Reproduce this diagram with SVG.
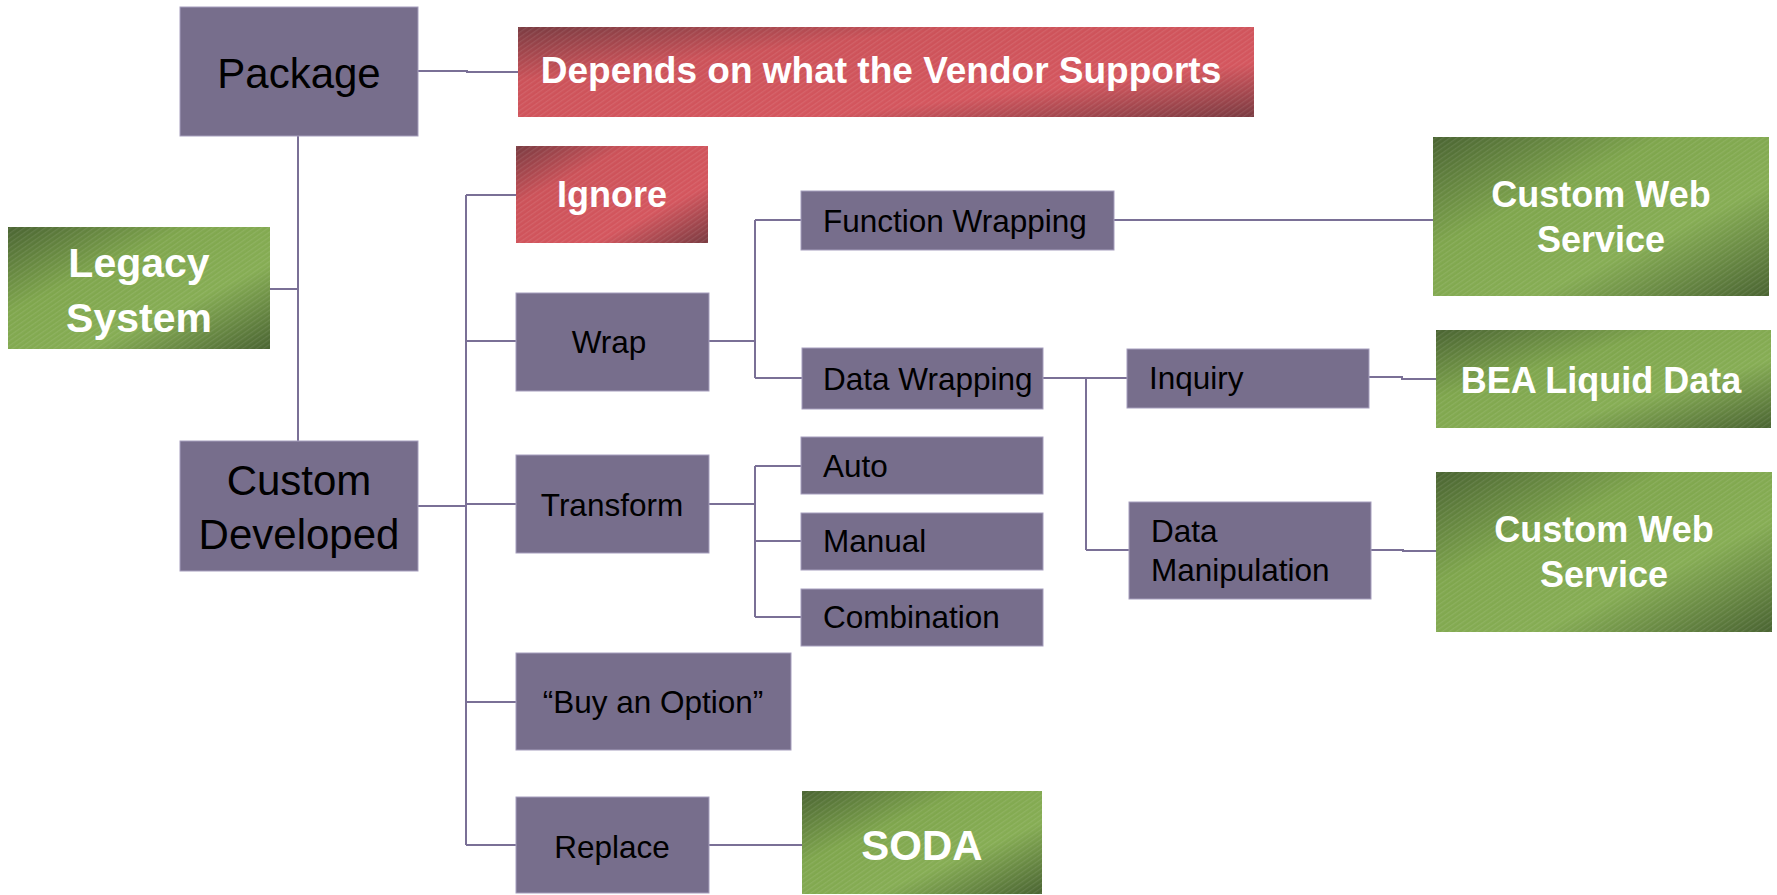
<svg xmlns="http://www.w3.org/2000/svg" width="1777" height="895" viewBox="0 0 1777 895">
<defs>
<linearGradient id="gRed" x1="0" y1="0" x2="1" y2="1">
<stop offset="0" stop-color="#7a3b41"/>
<stop offset="0.3" stop-color="#cc5259"/>
<stop offset="0.7" stop-color="#d4565e"/>
<stop offset="1" stop-color="#7a3b41"/>
</linearGradient>
<linearGradient id="gGreen" x1="0" y1="0" x2="1" y2="1">
<stop offset="0" stop-color="#4a6432"/>
<stop offset="0.35" stop-color="#7fa64d"/>
<stop offset="0.65" stop-color="#86ad54"/>
<stop offset="1" stop-color="#4a6432"/>
</linearGradient>
<pattern id="hatch" width="4" height="4" patternUnits="userSpaceOnUse" patternTransform="rotate(-35)">
<rect width="4" height="1.3" fill="#ffffff" fill-opacity="0.09"/>
</pattern>
</defs>
<style>
.p{fill:#776e8c;stroke:#a69ebd;stroke-width:1}
.r{fill:url(#gRed)}
.g{fill:url(#gGreen)}
.h{fill:url(#hatch)}
.t{font-family:"Liberation Sans",Arial,sans-serif;font-size:31.5px;fill:#000}
.tl{font-family:"Liberation Sans",Arial,sans-serif;font-size:42px;fill:#000;text-anchor:middle}
.c{text-anchor:middle}
.b{font-family:"Liberation Sans",Arial,sans-serif;font-weight:bold;fill:#fff;text-anchor:middle}
#connectors path{fill:none;stroke:#7a7096;stroke-width:2}
</style>
<rect width="1777" height="895" fill="#fff"/>
<g id="connectors">
<path d="M418,71 H467 V72 H518"/>
<path d="M298,136 V441"/>
<path d="M270,289 H298"/>
<path d="M418,506 H466"/>
<path d="M466,195 V845"/>
<path d="M466,195 H516"/>
<path d="M466,341 H516"/>
<path d="M466,504 H516"/>
<path d="M466,702 H516"/>
<path d="M466,845 H516"/>
<path d="M709,341 H755"/>
<path d="M755,220 V378"/>
<path d="M755,220 H801"/>
<path d="M755,378 H802"/>
<path d="M1114,220 H1433"/>
<path d="M1043,378 H1086"/>
<path d="M1086,378 V550"/>
<path d="M1086,378 H1127"/>
<path d="M1086,550 H1129"/>
<path d="M1369,377 H1402 V379 H1436"/>
<path d="M1371,550 H1403 V551 H1436"/>
<path d="M709,504 H755"/>
<path d="M755,466 V617"/>
<path d="M755,466 H801"/>
<path d="M755,541 H801"/>
<path d="M755,617 H801"/>
<path d="M709,845 H802"/>
</g>
<g id="package"><rect class="p" x="180" y="7" width="238" height="129"/><text class="tl" x="299" y="88">Package</text></g>
<g id="custom-developed"><rect class="p" x="180" y="441" width="238" height="130"/><text class="tl" x="299" y="495">Custom</text><text class="tl" x="299" y="549">Developed</text></g>
<g id="legacy-system"><rect class="g" x="8" y="227" width="262" height="122"/><rect class="h" x="8" y="227" width="262" height="122"/><text class="b" x="139" y="277" font-size="41">Legacy</text><text class="b" x="139" y="332" font-size="41">System</text></g>
<g id="depends"><rect class="r" x="518" y="27" width="736" height="90"/><rect class="h" x="518" y="27" width="736" height="90"/><text class="b" x="881" y="83" font-size="37">Depends on what the Vendor Supports</text></g>
<g id="ignore"><rect class="r" x="516" y="146" width="192" height="97"/><rect class="h" x="516" y="146" width="192" height="97"/><text class="b" x="612" y="207" font-size="36">Ignore</text></g>
<g id="wrap"><rect class="p" x="516" y="293" width="193" height="98"/><text class="t c" x="609" y="353">Wrap</text></g>
<g id="function-wrapping"><rect class="p" x="801" y="191" width="313" height="59"/><text class="t" x="823" y="232">Function Wrapping</text></g>
<g id="data-wrapping"><rect class="p" x="802" y="348" width="241" height="61"/><text class="t" x="823" y="390">Data Wrapping</text></g>
<g id="transform"><rect class="p" x="516" y="455" width="193" height="98"/><text class="t c" x="612" y="516">Transform</text></g>
<g id="auto"><rect class="p" x="801" y="437" width="242" height="57"/><text class="t" x="823" y="477">Auto</text></g>
<g id="manual"><rect class="p" x="801" y="513" width="242" height="57"/><text class="t" x="823" y="552">Manual</text></g>
<g id="combination"><rect class="p" x="801" y="589" width="242" height="57"/><text class="t" x="823" y="628">Combination</text></g>
<g id="buy-option"><rect class="p" x="516" y="653" width="275" height="97"/><text class="t c" x="653" y="713">“Buy an Option”</text></g>
<g id="replace"><rect class="p" x="516" y="797" width="193" height="96"/><text class="t c" x="612" y="858">Replace</text></g>
<g id="soda"><rect class="g" x="802" y="791" width="240" height="103"/><rect class="h" x="802" y="791" width="240" height="103"/><text class="b" x="922" y="860" font-size="42">SODA</text></g>
<g id="inquiry"><rect class="p" x="1127" y="349" width="242" height="59"/><text class="t" x="1149" y="389">Inquiry</text></g>
<g id="data-manipulation"><rect class="p" x="1129" y="502" width="242" height="97"/><text class="t" x="1151" y="542">Data</text><text class="t" x="1151" y="581">Manipulation</text></g>
<g id="custom-web-service-1"><rect class="g" x="1433" y="137" width="336" height="159"/><rect class="h" x="1433" y="137" width="336" height="159"/><text class="b" x="1601" y="207" font-size="36">Custom Web</text><text class="b" x="1601" y="252" font-size="36">Service</text></g>
<g id="bea-liquid-data"><rect class="g" x="1436" y="330" width="335" height="98"/><rect class="h" x="1436" y="330" width="335" height="98"/><text class="b" x="1601" y="393" font-size="36">BEA Liquid Data</text></g>
<g id="custom-web-service-2"><rect class="g" x="1436" y="472" width="336" height="160"/><rect class="h" x="1436" y="472" width="336" height="160"/><text class="b" x="1604" y="542" font-size="36">Custom Web</text><text class="b" x="1604" y="587" font-size="36">Service</text></g>
</svg>
